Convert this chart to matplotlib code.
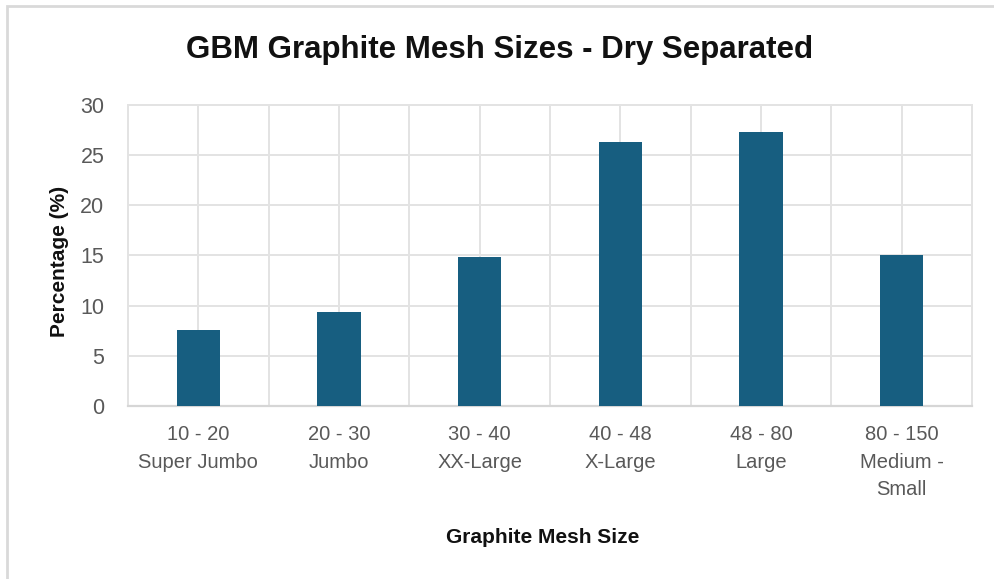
import numpy as np
import matplotlib.pyplot as plt
from matplotlib.patches import Rectangle
from matplotlib.ticker import FixedLocator

plt.rcParams['font.family'] = ['Liberation Sans', 'DejaVu Sans']

mesh_ranges = ["10 - 20", "20 - 30", "30 - 40", "40 - 48", "48 - 80", "80 - 150"]
mesh_names = ["Super Jumbo", "Jumbo", "XX-Large", "X-Large", "Large", "Medium -\nSmall"]
percentages = [7.6, 9.4, 14.8, 26.3, 27.3, 15.0]

bar_color = "#175e80"
grid_color = "#e3e3e3"
text_gray = "#595959"

fig = plt.figure(figsize=(9.94, 5.79), dpi=100)
ax = fig.add_axes([0.1288, 0.2988, 0.849, 0.5199])

x = np.arange(len(percentages))
ax.bar(x, percentages, width=0.31, color=bar_color, zorder=3)

ax.set_xlim(-0.5, len(percentages) - 0.5)
ax.set_ylim(0, 30)
ax.set_yticks(range(0, 31, 5))

labels = [f"{r}\n{n}" for r, n in zip(mesh_ranges, mesh_names)]
ax.set_xticks(x)
ax.set_xticklabels(labels, fontsize=14.5, color=text_gray, linespacing=1.55, va="top")
ax.xaxis.set_minor_locator(FixedLocator(np.arange(-0.5, len(percentages), 1.0)))
ax.tick_params(axis="y", labelsize=15.5, colors=text_gray, length=0, pad=17)
ax.tick_params(axis="x", which="both", length=0, pad=14)

ax.grid(True, which="both", color=grid_color, linewidth=1.4, zorder=0)
for side in ["top", "right", "left"]:
    ax.spines[side].set_color(grid_color)
    ax.spines[side].set_linewidth(1.4)
ax.spines["bottom"].set_color("#d6d6d6")
ax.spines["bottom"].set_linewidth(1.6)

ax.set_ylabel("Percentage (%)", fontsize=15, fontweight="bold", color="#111111")
ax.yaxis.set_label_coords(-0.07, 0.48)
ax.set_xlabel("Graphite Mesh Size", fontsize=15, fontweight="bold", color="#111111")
ax.xaxis.set_label_coords(0.491, -0.405)

fig.text(0.503, 0.914, "GBM Graphite Mesh Sizes - Dry Separated", ha="center", va="center",
         fontsize=22.5, fontweight="bold", color="#111111")

# thin outer frame, only top and left edges show
fig.patches.append(Rectangle((7 / 994, -0.05), 1.2, 1 - 6 / 579 + 0.05,
                             transform=fig.transFigure, fill=False,
                             edgecolor="#d9d9d9", linewidth=2))

fig.savefig("out.png", dpi=100)
